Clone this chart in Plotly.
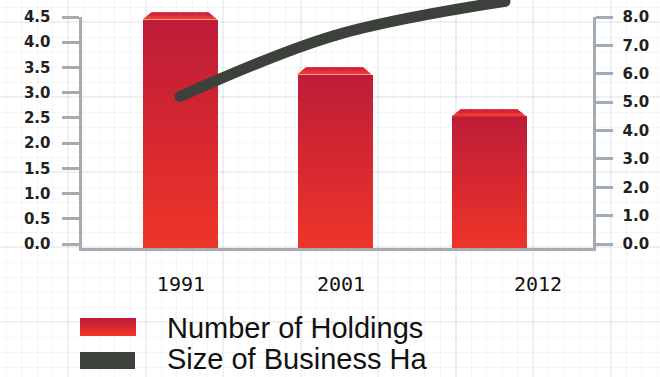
import plotly.graph_objects as go

# ---- data -------------------------------------------------------------
years = ["1991", "2001", "2012"]
holdings = [4.45, 3.36, 2.53]              # Number of Holdings (left scale)
line_years = [1991, 2001, 2012]
business_ha = [5.2, 7.35, 8.55]            # Size of Business Ha (right scale)
left_ticks = [0.0, 0.5, 1.0, 1.5, 2.0, 2.5, 3.0, 3.5, 4.0, 4.5]
right_ticks = [0, 1, 2, 3, 4, 5, 6, 7, 8]
series_names = ["Number of Holdings", "Size of Business Ha"]

# ---- page geometry (pixels) ------------------------------------------
W, H = 660, 377
PLOT_L, PLOT_R = 81.5, 592.5          # inner edges of the vertical axis lines
PLOT_T, PLOT_B = 17.0, 248.0          # top tick / inner edge of the base line
ZERO_Y = 244.0                        # pixel row of the 0.0 ticks
LEFT_PPU = (ZERO_Y - PLOT_T) / max(left_ticks)
RIGHT_PPU = (ZERO_Y - PLOT_T) / max(right_ticks)
BAR_X0, BAR_STEP, BAR_W_PX = 180.0, 154.5, 75.0
YEAR_X0, PX_PER_YEAR = 180.0, 15.476
LABEL_NUDGE = [0.006, 0.042, 0.317]   # year captions sit a little right of the bars

AXIS_GREY = "#a4abb2"
TEXT_DARK = "#231f20"
LINE_COLOR = "#3c413b"
RED_TOP = (190, 28, 56)
RED_BOTTOM = (238, 52, 41)


def px_x(px):
    return px / W


def px_y(py):
    return 1 - py / H


def mix(c1, c2, t):
    return "rgb({},{},{})".format(*[round(a + (b - a) * t) for a, b in zip(c1, c2)])


idx = list(range(len(years)))
x2_range = [(PLOT_L - BAR_X0) / BAR_STEP, (PLOT_R - BAR_X0) / BAR_STEP]
x3_range = [line_years[0] + (PLOT_L - YEAR_X0) / PX_PER_YEAR,
            line_years[0] + (PLOT_R - YEAR_X0) / PX_PER_YEAR]
y2_range = [(ZERO_Y - PLOT_B) / LEFT_PPU, (ZERO_Y - PLOT_T) / LEFT_PPU]
y3_range = [(ZERO_Y - PLOT_B) / RIGHT_PPU, (ZERO_Y - PLOT_T) / RIGHT_PPU]
y4_range = [(ZERO_Y - PLOT_B) / RIGHT_PPU, ZERO_Y / RIGHT_PPU]
y5_range = [(ZERO_Y - PLOT_B) / LEFT_PPU, ZERO_Y / LEFT_PPU]
x_dom = [px_x(PLOT_L), px_x(PLOT_R)]
short_dom = [px_y(PLOT_B), px_y(PLOT_T)]
tall_dom = [px_y(PLOT_B), 1.0]

fig = go.Figure()

# empty traces so the backdrop grid and the right-hand scale get their subplots
fig.add_trace(go.Scatter(x=[], y=[], xaxis="x", yaxis="y", showlegend=False, hoverinfo="skip"))
fig.add_trace(go.Scatter(x=[], y=[], xaxis="x2", yaxis="y3", showlegend=False, hoverinfo="skip"))

# ---- bars: stacked overlays give a vertical crimson-to-red gradient ---
floor = y2_range[0]
bar_w = BAR_W_PX / BAR_STEP
N_BANDS = 32
for k in range(N_BANDS):
    frac = 1 - k / N_BANDS
    fig.add_trace(go.Bar(
        x=idx,
        y=[(v - floor) * frac for v in holdings],
        base=floor,
        width=bar_w,
        marker=dict(color=mix(RED_TOP, RED_BOTTOM, k / (N_BANDS - 1)), line=dict(width=0)),
        xaxis="x2", yaxis="y2",
        showlegend=False, hoverinfo="skip",
    ))

# ---- bevelled caps on top of each bar ----------------------------------
bevel_h = 7.0 / LEFT_PPU
bevel_in = 9.0 / BAR_STEP


def bevel_path(lo, hi):
    xs, ys = [], []
    for i, v in zip(idx, holdings):
        xl, xr = i - bar_w / 2, i + bar_w / 2
        a, b = v + bevel_h * lo, v + bevel_h * hi
        xs += [xl + bevel_in * lo, xl + bevel_in * hi, xr - bevel_in * hi, xr - bevel_in * lo,
               xl + bevel_in * lo, None]
        ys += [a, b, b, a, a, None]
    return xs, ys


for lo, hi, col in [(0.0, 1.0, "#ee3a30"), (0.45, 1.0, "#d8283a"), (0.8, 1.0, "#c81f3a")]:
    bx, by = bevel_path(lo, hi)
    fig.add_trace(go.Scatter(
        x=bx, y=by, mode="lines", fill="toself", fillcolor=col,
        line=dict(width=0, color=col), xaxis="x2", yaxis="y5",
        showlegend=False, hoverinfo="skip",
    ))

# ---- business size line ------------------------------------------------
fig.add_trace(go.Scatter(
    x=line_years, y=business_ha, mode="lines+markers",
    line=dict(color=LINE_COLOR, width=11, shape="spline", smoothing=1),
    marker=dict(size=11, color=LINE_COLOR),
    xaxis="x3", yaxis="y4", showlegend=False, hoverinfo="skip",
))

# ---- legend: swatches and captions --------------------------------------
shapes = []
n_strip = 6
sw_l, sw_r, sw_t, sw_b = 80, 136, 318, 336
for s in range(n_strip):
    t0 = sw_t + (sw_b - sw_t) * s / n_strip
    t1 = sw_t + (sw_b - sw_t) * (s + 1) / n_strip
    shapes.append(dict(type="rect", xref="paper", yref="paper",
                       x0=px_x(sw_l), x1=px_x(sw_r), y0=px_y(t1), y1=px_y(t0),
                       fillcolor=mix(RED_TOP, RED_BOTTOM, s / (n_strip - 1)),
                       line=dict(width=0), layer="above"))
shapes.append(dict(type="rect", xref="paper", yref="paper",
                   x0=px_x(80), x1=px_x(135), y0=px_y(369), y1=px_y(352),
                   fillcolor=LINE_COLOR, line=dict(width=0), layer="above"))

annotations = []
for name, cy in zip(series_names, [328, 359]):
    annotations.append(dict(text=name, xref="paper", yref="paper",
                            x=px_x(165), y=px_y(cy), xanchor="left", yanchor="middle",
                            showarrow=False,
                            font=dict(family="Liberation Sans, Arial", size=29, color="#111111")))

grid_axis = dict(showticklabels=False, ticks="", showline=False, zeroline=False,
                 showgrid=True, gridcolor="rgba(0,0,0,0.06)", gridwidth=2)
y_tick_font = dict(family="DejaVu Sans", size=15, color=TEXT_DARK, weight="bold")
value_axis = dict(showline=True, linecolor=AXIS_GREY, linewidth=3,
                  ticks="outside", ticklen=17, tickwidth=3, tickcolor=AXIS_GREY,
                  tickformat=".1f", tickfont=y_tick_font, showgrid=False, zeroline=False,
                  fixedrange=True, automargin=False)

fig.update_layout(
    width=W, height=H, autosize=False,
    margin=dict(l=0, r=0, t=0, b=0, pad=0, autoexpand=False),
    paper_bgcolor="white", plot_bgcolor="rgba(0,0,0,0)",
    barmode="overlay", bargap=0, hovermode=False, showlegend=False,
    # faint graph-paper backdrop
    xaxis=dict(domain=[0, 1], range=[0, W], dtick=77.5, tick0=68,
               minor=dict(dtick=15.5, tick0=6, showgrid=True,
                          gridcolor="rgba(0,0,0,0.035)", gridwidth=1),
               **grid_axis),
    yaxis=dict(domain=[0, 1], range=[H, 0], dtick=75, tick0=22,
               minor=dict(dtick=15, tick0=7, showgrid=True,
                          gridcolor="rgba(0,0,0,0.035)", gridwidth=1),
               **grid_axis),
    xaxis2=dict(domain=x_dom, range=x2_range, anchor="y2",
                showline=True, linecolor=AXIS_GREY, linewidth=3, ticks="",
                tickmode="array", tickvals=[i + d for i, d in zip(idx, LABEL_NUDGE)],
                ticktext=years, ticklabelstandoff=16, automargin=False,
                tickfont=dict(family="DejaVu Sans Mono", size=20, color="#111111"),
                showgrid=False, zeroline=False),
    yaxis2=dict(domain=short_dom, range=y2_range, anchor="x2", side="left",
                tickmode="array", tickvals=left_ticks, ticklabelstandoff=8, **value_axis),
    yaxis3=dict(range=y3_range, anchor="x2", overlaying="y2", side="right",
                tickmode="array", tickvals=right_ticks, ticklabelstandoff=7, **value_axis),
    xaxis3=dict(domain=x_dom, range=x3_range, anchor="y4", visible=False),
    yaxis4=dict(domain=tall_dom, range=y4_range, anchor="x3", visible=False),
    yaxis5=dict(domain=tall_dom, range=y5_range, anchor="x2", visible=False),
    shapes=shapes,
    annotations=annotations,
)

fig.write_html("out.html")
